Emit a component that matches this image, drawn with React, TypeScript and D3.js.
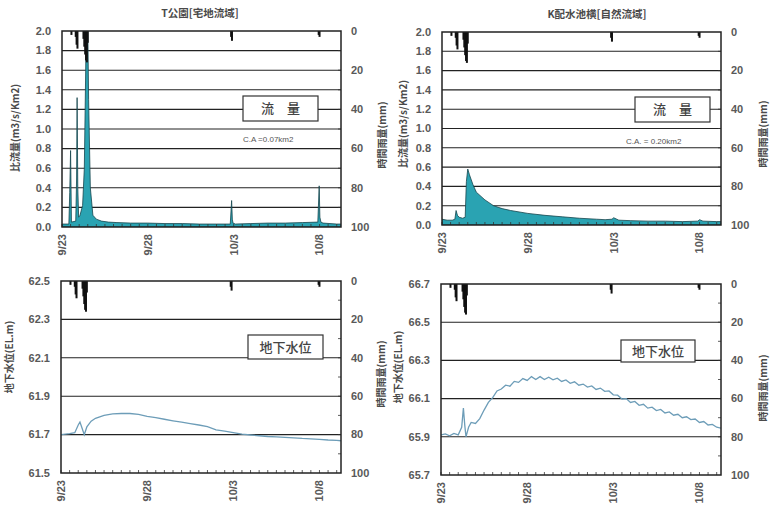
import * as d3 from 'd3'

// time axis
const startDate = new Date(2003, 8, 23)
const endDate = new Date(2003, 9, 9, 6)
const dateLabels = ['9/23', '9/28', '10/3', '10/8']
const dateLabelDays = [0, 5, 10, 15]

// hourly rainfall (days since 9/23 0:00, mm)
const rainDay = [0.55, 0.8, 0.85, 0.9, 1.25, 1.3, 1.35, 1.4, 1.45, 1.5, 9.85, 9.9, 14.95, 15.0]
const rainMm = [2, 3, 7, 9, 4, 8, 12, 15, 16, 6, 3, 5, 2, 3]
const rainTicks = [0, 20, 40, 60, 80, 100]

// specific discharge, T park (urban)
const flowTDay = [0, 0.4, 0.45, 0.5, 0.55, 0.8, 0.85, 0.88, 0.92, 0.97, 1.05, 1.2, 1.3, 1.38, 1.42, 1.48, 1.55, 1.65, 1.8, 2.0, 2.3, 2.7, 3.2, 4, 5, 6, 7, 8, 9, 9.8, 9.88, 9.92, 9.96, 10.1, 11, 12, 13, 14, 14.9, 14.98, 15.02, 15.08, 15.2, 16, 16.25]
const flowTVal = [0.03, 0.03, 0.35, 0.78, 0.05, 0.06, 0.5, 1.32, 0.4, 0.1, 0.12, 0.22, 0.6, 1.6, 2.3, 2.4, 1.3, 0.4, 0.12, 0.08, 0.06, 0.05, 0.045, 0.04, 0.04, 0.035, 0.035, 0.03, 0.03, 0.03, 0.27, 0.08, 0.04, 0.03, 0.035, 0.04, 0.04, 0.045, 0.05, 0.42, 0.1, 0.05, 0.04, 0.03, 0.03]

// specific discharge, K reservoir (natural)
const flowKDay = [0, 0.3, 0.6, 0.75, 0.82, 0.9, 1.0, 1.2, 1.35, 1.42, 1.5, 1.6, 1.8, 2.0, 2.5, 3.0, 3.5, 4.0, 5.0, 6.0, 7.0, 8.0, 9.0, 9.5, 9.9, 10.0, 10.3, 11, 12, 13, 14, 14.9, 15.0, 15.2, 16, 16.25]
const flowKVal = [0.06, 0.05, 0.05, 0.06, 0.15, 0.1, 0.08, 0.07, 0.08, 0.45, 0.58, 0.52, 0.42, 0.34, 0.26, 0.2, 0.17, 0.15, 0.12, 0.1, 0.085, 0.07, 0.06, 0.055, 0.06, 0.075, 0.05, 0.045, 0.04, 0.04, 0.035, 0.04, 0.055, 0.04, 0.035, 0.035]

// groundwater level, T park
const gwTDay = [0, 0.5, 0.8, 1.0, 1.1, 1.2, 1.35, 1.5, 1.75, 2.0, 2.5, 3.0, 3.5, 4.0, 4.5, 5, 5.5, 6, 6.5, 7, 7.5, 8, 8.5, 9, 9.5, 10, 10.5, 11, 11.5, 12, 12.5, 13, 13.5, 14, 14.5, 15, 15.5, 16, 16.25]
const gwTVal = [61.7, 61.705, 61.71, 61.75, 61.765, 61.74, 61.7, 61.74, 61.77, 61.785, 61.8, 61.808, 61.81, 61.81, 61.805, 61.795, 61.788, 61.78, 61.772, 61.765, 61.757, 61.75, 61.742, 61.725, 61.718, 61.71, 61.703, 61.698, 61.694, 61.69, 61.688, 61.686, 61.683, 61.68, 61.678, 61.675, 61.672, 61.67, 61.668]

// groundwater level, K reservoir
const gwKDay = [0, 0.25, 0.5, 0.75, 1.0, 1.2, 1.3, 1.38, 1.45, 1.6, 1.75, 2.0, 2.25, 2.5, 2.75, 3.0, 3.25, 3.5, 3.75, 4.0, 4.25, 4.5, 4.75, 5.0, 5.25, 5.5, 5.75, 6.0, 6.25, 6.5, 6.75, 7.0, 7.25, 7.5, 7.75, 8.0, 8.25, 8.5, 8.75, 9.0, 9.25, 9.5, 9.75, 10.0, 10.25, 10.5, 10.75, 11.0, 11.25, 11.5, 11.75, 12.0, 12.25, 12.5, 12.75, 13.0, 13.25, 13.5, 13.75, 14.0, 14.25, 14.5, 14.75, 15.0, 15.25, 15.5, 15.75, 16.0, 16.25]
const gwKVal = [65.91, 65.915, 65.905, 65.918, 65.91, 65.95, 66.05, 65.96, 65.9, 65.95, 65.975, 65.97, 65.995, 66.04, 66.08, 66.105, 66.14, 66.15, 66.17, 66.165, 66.19, 66.185, 66.205, 66.195, 66.215, 66.2, 66.215, 66.2, 66.212, 66.198, 66.207, 66.19, 66.198, 66.18, 66.188, 66.17, 66.176, 66.16, 66.166, 66.148, 66.155, 66.138, 66.14, 66.12, 66.118, 66.098, 66.1, 66.08, 66.085, 66.065, 66.07, 66.05, 66.055, 66.037, 66.043, 66.025, 66.03, 66.013, 66.018, 66.0, 66.005, 65.99, 65.993, 65.975, 65.98, 65.962, 65.965, 65.95, 65.945]

const flowTicks = [0, 0.2, 0.4, 0.6, 0.8, 1.0, 1.2, 1.4, 1.6, 1.8, 2.0]
const gwTTicks = [61.5, 61.7, 61.9, 62.1, 62.3, 62.5]
const gwKTicks = [65.7, 65.9, 66.1, 66.3, 66.5, 66.7]

const dayToDate = (d: number) => new Date(startDate.getTime() + d * 86400000)

const numFont = 'Liberation Sans, Arial, sans-serif'
const jpFont = 'Noto Sans CJK JP, sans-serif'
const textGray = '#595959'

type PanelProps = {
  id: string
  L: number
  R: number
  T: number
  B: number
  yTicks: number[]
  kind: 'area' | 'line'
  days: number[]
  vals: number[]
  title?: string
  titleX?: number
  leftTitle: string
  leftTitleX: number
  leftTitleY: number
  rightTitleX: number
  rightTitleY: number
  boxX: number
  boxY: number
  boxW: number
  boxH: number
  boxText: string
  caText?: string
  caX?: number
  caY?: number
}

const Panel = (p: PanelProps) => {
  const x = d3.scaleTime().domain([startDate, endDate]).range([p.L, p.R])
  const y = d3
    .scaleLinear()
    .domain([p.yTicks[0], p.yTicks[p.yTicks.length - 1]])
    .range([p.B, p.T])
  const r = d3.scaleLinear().domain([0, 100]).range([p.T, p.B])
  const pts = p.days.map((d, i) => [x(dayToDate(d)), y(p.vals[i])] as [number, number])
  const areaPath = d3
    .area<[number, number]>()
    .x(d => d[0])
    .y0(p.B)
    .y1(d => d[1])(pts)
  const linePath = d3
    .line<[number, number]>()
    .x(d => d[0])
    .y(d => d[1])(pts)
  const minor = d3.timeHour.every(12)!.range(startDate, endDate)

  return (
    <g>
      <defs>
        <clipPath id={p.id}>
          <rect x={p.L} y={p.T} width={p.R - p.L} height={p.B - p.T} />
        </clipPath>
      </defs>
      {p.title && (
        <text x={p.titleX} y={p.T - 14} textAnchor="middle" fontFamily={jpFont} fontSize={10.5} fontWeight={700} fill="#4a4a4a">
          {p.title}
        </text>
      )}
      {/* grid */}
      {p.yTicks.slice(1, -1).map(t => (
        <line key={t} x1={p.L} x2={p.R} y1={y(t)} y2={y(t)} stroke="#222" strokeWidth={1.1} />
      ))}
      {/* series */}
      <g clipPath={`url(#${p.id})`}>
        {p.kind === 'area' ? (
          <path d={areaPath ?? ''} fill="#2aa3b2" stroke="#17454d" strokeWidth={0.8} />
        ) : (
          <path d={linePath ?? ''} fill="none" stroke="#6d9db8" strokeWidth={1.3} />
        )}
        {rainDay.map((d, i) => (
          <rect key={i} x={x(dayToDate(d)) - 1} y={p.T} width={2} height={r(rainMm[i]) - p.T} fill="#111" />
        ))}
      </g>
      {/* minor ticks */}
      {minor.map((d, i) => (
        <line key={i} x1={x(d)} x2={x(d)} y1={p.B} y2={p.B - 3} stroke="#333" strokeWidth={0.8} />
      ))}
      {d3.range(10, 100, 10).map(v => (
        <line key={v} x1={p.R} x2={p.R - 3} y1={r(v)} y2={r(v)} stroke="#333" strokeWidth={0.8} />
      ))}
      <rect x={p.L} y={p.T} width={p.R - p.L} height={p.B - p.T} fill="none" stroke="#222" strokeWidth={1.5} />
      {/* label box */}
      <rect x={p.boxX} y={p.boxY} width={p.boxW} height={p.boxH} fill="#fff" stroke="#333" strokeWidth={1.2} />
      <text x={p.boxX + p.boxW / 2} y={p.boxY + p.boxH / 2} dy="0.36em" textAnchor="middle" fontFamily={jpFont} fontSize={13} fontWeight={500} fill="#444">
        {p.boxText}
      </text>
      {p.caText && (
        <text x={p.caX} y={p.caY} fontFamily={numFont} fontSize={8} fill="#555">
          {p.caText}
        </text>
      )}
      {/* left axis */}
      {p.yTicks.map(t => (
        <text key={t} x={p.L - 11} y={y(t)} dy="0.35em" textAnchor="end" fontFamily={numFont} fontSize={11} fontWeight={700} fill={textGray}>
          {t.toFixed(1)}
        </text>
      ))}
      {/* right axis */}
      {rainTicks.map(t => (
        <text key={t} x={p.R + 10} y={r(t)} dy="0.35em" fontFamily={numFont} fontSize={11} fontWeight={700} fill={textGray}>
          {t}
        </text>
      ))}
      {/* date labels */}
      {dateLabels.map((lab, i) => (
        <text
          key={lab}
          transform={`translate(${x(dayToDate(dateLabelDays[i]))},${p.B + 7}) rotate(-90)`}
          dy="0.35em"
          textAnchor="end"
          fontFamily={numFont}
          fontSize={11}
          fontWeight={700}
          fill={textGray}
        >
          {lab}
        </text>
      ))}
      <text transform={`translate(${p.leftTitleX},${p.leftTitleY}) rotate(-90)`} textAnchor="middle" dy="0.35em" fontFamily={jpFont} fontSize={10} fontWeight={700} fill="#4a4a4a">
        {p.leftTitle}
      </text>
      <text transform={`translate(${p.rightTitleX},${p.rightTitleY}) rotate(-90)`} textAnchor="middle" dy="0.35em" fontFamily={jpFont} fontSize={10} fontWeight={700} fill="#4a4a4a">
        時間雨量(mm)
      </text>
    </g>
  )
}

const App = () => {
  return (
    <svg width={778} height={520} style={{ position: 'absolute', left: 0, top: 0, background: '#fff' }}>
      <Panel
        id="pa"
        L={62} R={341} T={31} B={227}
        yTicks={flowTicks}
        kind="area"
        days={flowTDay}
        vals={flowTVal}
        title="T公園[宅地流域]"
        titleX={200}
        leftTitle="比流量(m3/s/Km2)"
        leftTitleX={15}
        leftTitleY={128}
        rightTitleX={382}
        rightTitleY={135}
        boxX={243} boxY={96} boxW={75} boxH={25}
        boxText="流　量"
        caText="C.A =0.07km2"
        caX={243} caY={142}
      />
      <Panel
        id="pb"
        L={442} R={721} T={32} B={225}
        yTicks={flowTicks}
        kind="area"
        days={flowKDay}
        vals={flowKVal}
        title="K配水池横[自然流域]"
        titleX={597}
        leftTitle="比流量(m3/s/Km2)"
        leftTitleX={403}
        leftTitleY={124}
        rightTitleX={763}
        rightTitleY={134}
        boxX={635} boxY={97} boxW={75} boxH={25}
        boxText="流　量"
        caText="C.A. = 0.20km2"
        caX={626} caY={144}
      />
      <Panel
        id="pc"
        L={61} R={341} T={281} B={473}
        yTicks={gwTTicks}
        kind="line"
        days={gwTDay}
        vals={gwTVal}
        leftTitle="地下水位(EL.m)"
        leftTitleX={9}
        leftTitleY={357}
        rightTitleX={381}
        rightTitleY={374}
        boxX={248} boxY={335} boxW={75} boxH={24}
        boxText="地下水位"
      />
      <Panel
        id="pd"
        L={441} R={721} T={284} B={475}
        yTicks={gwKTicks}
        kind="line"
        days={gwKDay}
        vals={gwKVal}
        leftTitle="地下水位(EL.m)"
        leftTitleX={398}
        leftTitleY={367}
        rightTitleX={763}
        rightTitleY={388}
        boxX={621} boxY={340} boxW={74} boxH={22}
        boxText="地下水位"
      />
    </svg>
  )
}

export default App
